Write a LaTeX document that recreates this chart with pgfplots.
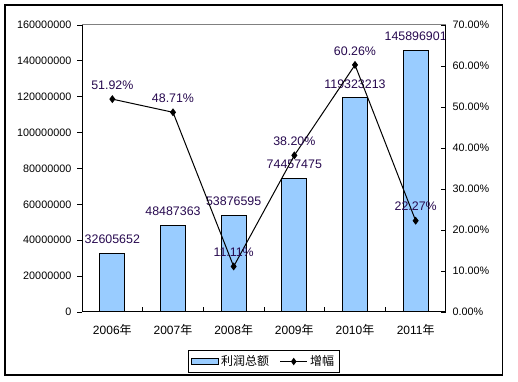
\documentclass[border=0pt]{standalone}
\usepackage{pgfplots}
\pgfplotsset{compat=1.18}
\usepackage{pgfplotstable}
\usepackage{fontspec}
\setmainfont{Liberation Sans}
\newfontfamily\cjk{Noto Sans CJK SC}
\definecolor{barblue}{RGB}{153,204,255}
\definecolor{lblcol}{RGB}{40,10,80}
\pgfplotstableread{
x y label
0 32605652 32605652
1 48487363 48487363
2 53876595 53876595
3 74457475 74457475
4 119323213 119323213
5 145896901 145896901
}\bardata
\pgfplotstableread{
x y label
0 51.92 51.92\%
1 48.71 48.71\%
2 11.11 11.11\%
3 38.20 38.20\%
4 60.26 60.26\%
5 22.27 22.27\%
}\linedata
\begin{document}
\begin{tikzpicture}
\useasboundingbox (0,0) rectangle (388.5pt,286.5pt);
\fill[white] (0,0) rectangle (388.5pt,286.5pt);
\draw[black, line width=0.9pt] (3.75pt,5.25pt) rectangle (377pt,282.75pt);
\begin{axis}[
  at={(61.5pt,52.5pt)}, anchor=south west,
  scale only axis, width=273pt, height=215.25pt,
  xmin=-0.5, xmax=5.5, ymin=0, ymax=160000000,
  axis x line*=bottom, axis y line*=left,
  axis line style={black, line width=0.75pt},
  xtick={0,...,5},
  xticklabels={2006{\cjk 年},2007{\cjk 年},2008{\cjk 年},2009{\cjk 年},2010{\cjk 年},2011{\cjk 年}},
  major x tick style={draw=none},
  minor xtick={0.5,1.5,2.5,3.5,4.5},
  minor x tick style={black, line width=0.6pt},
  minor tick length=3.5pt,
  ytick={0,20000000,40000000,60000000,80000000,100000000,120000000,140000000,160000000},
  yticklabels={0,20000000,40000000,60000000,80000000,100000000,120000000,140000000,160000000},
  major tick length=3.75pt,
  tick align=inside,
  ytick style={black, line width=0.6pt, xshift=-3.75pt},
  yticklabel style={font=\fontsize{8.1}{9}\selectfont, xshift=-4.5pt},
  xticklabel style={font=\fontsize{9}{10}\selectfont, yshift=-6pt},
  scaled y ticks=false,
  clip=false,
]
\draw[gray, line width=0.75pt] (rel axis cs:0,1) -- (rel axis cs:1,1);
\addplot[ybar, bar width=18.75pt, fill=barblue, draw=black, line width=0.75pt,
  nodes near coords, point meta=explicit symbolic,
  every node near coord/.append style={font=\fontsize{9.3}{10}\selectfont, text=lblcol, anchor=center, yshift=10.5pt}]
  table[x=x, y=y, meta=label] {\bardata};
\end{axis}
\begin{axis}[
  at={(61.5pt,52.5pt)}, anchor=south west,
  scale only axis, width=273pt, height=215.25pt,
  xmin=-0.5, xmax=5.5, ymin=0, ymax=70,
  axis x line=none, axis y line*=right,
  axis line style={black, line width=0.75pt},
  ytick={0,10,20,30,40,50,60,70},
  yticklabels={0.00\%,10.00\%,20.00\%,30.00\%,40.00\%,50.00\%,60.00\%,70.00\%},
  major tick length=3.75pt, tick align=inside,
  ytick style={black, line width=0.6pt},
  yticklabel style={font=\fontsize{8.1}{9}\selectfont, xshift=1.5pt},
  clip=false,
  legend columns=2,
  legend style={at={(0.5,-0.1725)}, anchor=center, draw=black, line width=0.6pt,
    font=\fontsize{9}{10}\selectfont\cjk, inner sep=2pt,
    /tikz/every even column/.append style={column sep=6pt}},
]
\addlegendimage{legend image code/.code={\draw[fill=barblue, draw=black, line width=0.6pt] (0pt,-2.25pt) rectangle (20pt,2.25pt);}}
\addlegendentry{利润总额}
\addplot[black, line width=0.75pt, mark=diamond*, mark size=2.4pt,
  nodes near coords, point meta=explicit symbolic,
  every node near coord/.append style={font=\fontsize{9.3}{10}\selectfont, text=lblcol, anchor=center, yshift=10.5pt},
  legend image code/.code={\draw[black, line width=0.75pt] (0pt,0pt) -- (20pt,0pt); \fill[black] (10pt,2.2pt) -- (11.6pt,0pt) -- (10pt,-2.2pt) -- (8.4pt,0pt) -- cycle;}]
  table[x=x, y=y, meta=label] {\linedata};
\addlegendentry{增幅}
\end{axis}
\end{tikzpicture}
\end{document}
